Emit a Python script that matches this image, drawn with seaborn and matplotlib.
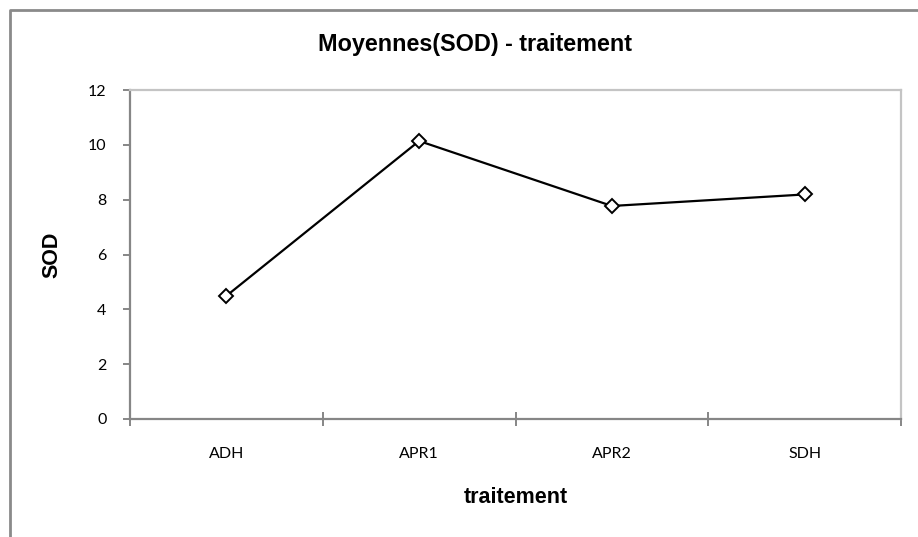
import matplotlib
matplotlib.use("Agg")
import matplotlib.pyplot as plt
from matplotlib.lines import Line2D
from matplotlib.ticker import FixedLocator
import seaborn as sns
import pandas as pd

# données
traitements = ["ADH", "APR1", "APR2", "SDH"]
moyennes_sod = [4.49, 10.14, 7.77, 8.19]
y_ticks = [0, 2, 4, 6, 8, 10, 12]

df = pd.DataFrame({"traitement": traitements, "SOD": moyennes_sod})

sns.set_style("white")
plt.rcParams["font.family"] = ["Lato", "DejaVu Sans"]
plt.rcParams["text.color"] = "black"
plt.rcParams["axes.labelcolor"] = "black"

W, H = 918, 537
fig = plt.figure(figsize=(W / 100, H / 100), dpi=100)
ax = fig.add_axes([130 / W, 1 - 419 / H, (901 - 130) / W, (419 - 90) / H])

sns.lineplot(data=df, x="traitement", y="SOD", sort=False, ax=ax,
             color="black", linewidth=1.6, marker="D", markersize=7,
             markerfacecolor="white", markeredgecolor="black", markeredgewidth=1.4)

ax.set_xlim(-0.5, len(traitements) - 0.5)
ax.set_ylim(0, 12)
ax.set_yticks(y_ticks)
ax.set_xticks(range(len(traitements)))
ax.set_xticklabels(traitements)
ax.xaxis.set_minor_locator(FixedLocator([i - 0.5 for i in range(len(traitements) + 1)]))

axis_grey = "#868686"
light_grey = "#c4c4c4"
for side in ["left", "bottom"]:
    ax.spines[side].set_color(axis_grey)
    ax.spines[side].set_linewidth(1.6)
for side in ["top", "right"]:
    ax.spines[side].set_visible(True)
    ax.spines[side].set_color(light_grey)
    ax.spines[side].set_linewidth(1.6)

ax.tick_params(axis="y", which="major", left=True, direction="out", length=5,
               width=1.4, color=axis_grey, pad=12, labelsize=11.5, labelcolor="black")
ax.tick_params(axis="x", which="major", bottom=True, length=0, pad=20,
               labelsize=11.5, labelcolor="black")
ax.tick_params(axis="x", which="minor", bottom=True, direction="inout", length=10,
               width=1.4, color=axis_grey)

ax.set_xlabel("traitement", fontsize=15.5, fontweight="bold", family="Liberation Sans")
ax.xaxis.set_label_coords(0.5, -0.208)
ax.set_ylabel("SOD", fontsize=15.5, fontweight="bold", family="Liberation Sans")
ax.yaxis.set_label_coords(-0.088, 0.5)

fig.text(475 / W, 1 - 44 / H, "Moyennes(SOD) - traitement", ha="center", va="center",
         fontsize=16.8, fontweight="bold", family="Liberation Sans")

# cadre extérieur du graphique
frame = Line2D([10 / W, 10 / W, 1.0], [0.0, 1 - 10 / H, 1 - 10 / H],
               transform=fig.transFigure, color="#8a8a8a", linewidth=2)
fig.add_artist(frame)

fig.savefig("out.png", dpi=100)
